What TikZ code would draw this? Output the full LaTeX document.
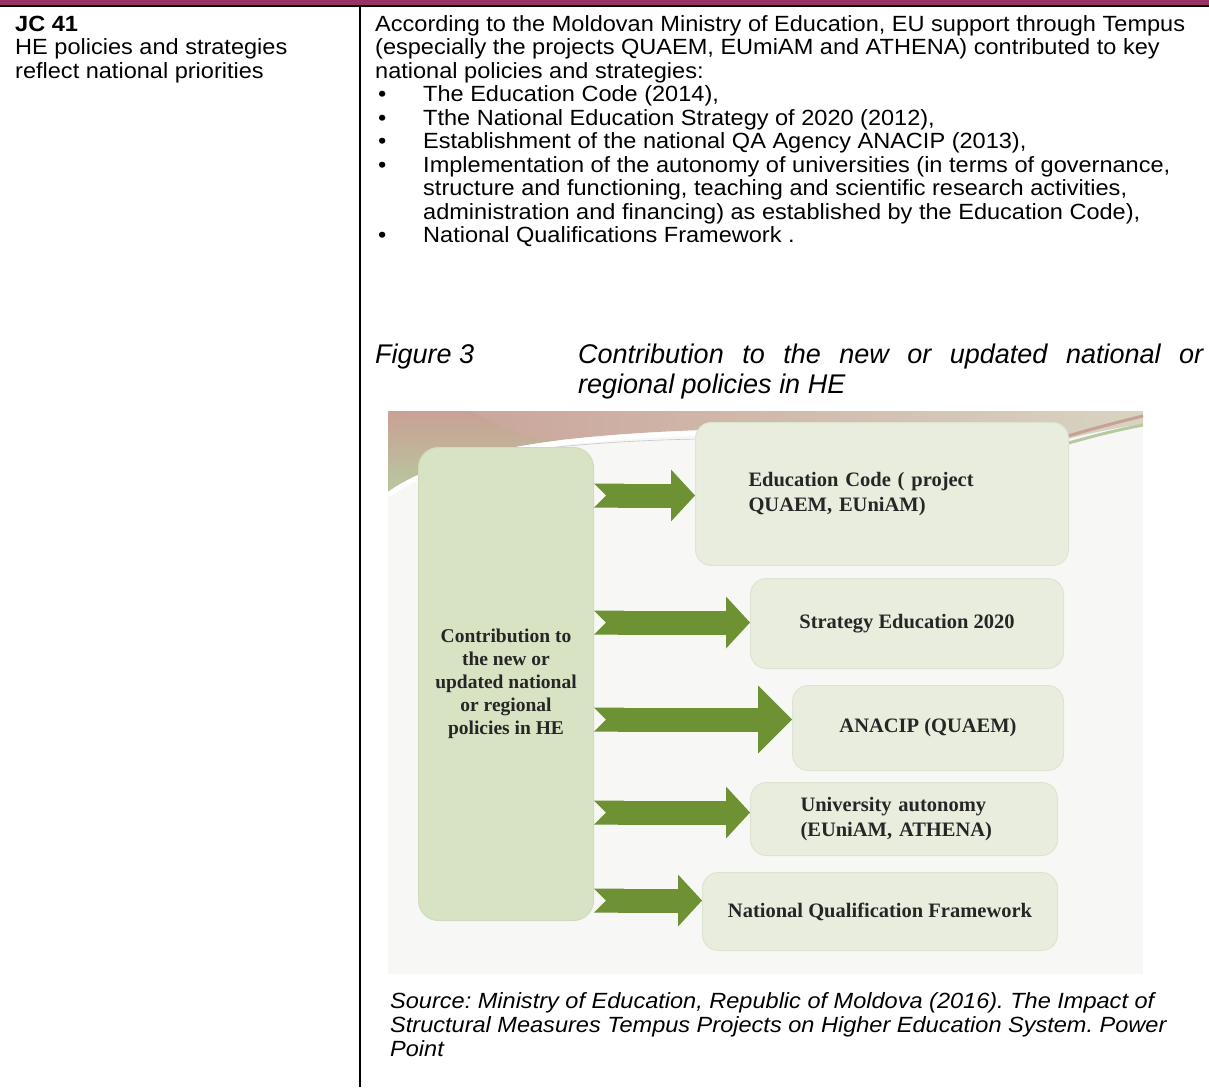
\documentclass[tikz,border=0pt]{standalone}
\usepackage{fontspec}
\setmainfont{Liberation Sans}[FakeStretch=1.07]
\newfontfamily\capfont{Liberation Sans}
\newfontfamily\slidefont{Liberation Serif}
\usetikzlibrary{arrows.meta}

\definecolor{barpurple}{HTML}{993366}
\definecolor{arrowgreen}{HTML}{6E9134}
\definecolor{leftgreen}{HTML}{D7E3C3}
\definecolor{leftedge}{HTML}{CFDBBA}
\definecolor{boxgrey}{HTML}{E8EDDD}
\definecolor{boxedge}{HTML}{DEE4D2}
\definecolor{slidebg}{HTML}{F7F8F5}
\definecolor{slidetext}{HTML}{262626}
\definecolor{swooshrose}{HTML}{C9A096}
\definecolor{swooshgreen}{HTML}{B7C99E}
\definecolor{swooshbeige}{HTML}{D8D3C2}

\tikzset{
  bodytext/.style={anchor=base west, inner sep=0pt, font=\fontsize{22}{23.5}\selectfont},
  srctext/.style={bodytext, font=\itshape\fontsize{22}{23.5}\selectfont},
  captext/.style={anchor=base west, inner sep=0pt, font=\capfont\itshape\fontsize{27}{30}\selectfont},
  policy/.style={rectangle, rounded corners=16pt, fill=boxgrey, draw=boxedge, line width=1pt,
    anchor=north west, inner sep=0pt, text=slidetext, align=center,
    font=\slidefont\bfseries\fontsize{20.5}{25}\selectfont},
  ctrbox/.style={policy, rounded corners=20pt, fill=leftgreen, draw=leftedge,
    font=\slidefont\bfseries\fontsize{19.5}{23}\selectfont},
  blockarrow/.style={draw=arrowgreen, line width=24pt,
    arrows={Triangle Cap[reversed]-Triangle[length=24pt, width=52pt, line width=0pt]}},
}

\begin{document}
\frenchspacing
\begin{tikzpicture}[x=1pt, y=-1pt]
  \useasboundingbox (0,0) rectangle (1209,1087);

  % table frame
  \fill[barpurple] (0,0) rectangle (1209,5);
  \draw[line width=2pt] (0,6) -- (1209,6);
  \draw[line width=1.6pt] (360,6) -- (360,1087);

  % left column
  \node[bodytext, font=\bfseries\fontsize{22}{23.5}\selectfont] (jc) at (15,31) {JC 41};
  \node[bodytext] (crit1) at (15,54.5) {HE policies and strategies};
  \node[bodytext] (crit2) at (15,78) {reflect national priorities};

  % right column
  \node[bodytext] (intro1) at (375,31) {According to the Moldovan Ministry of Education, EU support through Tempus};
  \node[bodytext] (intro2) at (375,54.5) {(especially the projects QUAEM, EUmiAM and ATHENA) contributed to key};
  \node[bodytext] (intro3) at (375,78) {national policies and strategies:};

  \node[bodytext] (dot1) at (378,101.5) {•};
  \node[bodytext] (item1) at (423,101.5) {The Education Code (2014),};
  \node[bodytext] (dot2) at (378,125) {•};
  \node[bodytext] (item2) at (423,125) {Tthe National Education Strategy of 2020 (2012),};
  \node[bodytext] (dot3) at (378,148.5) {•};
  \node[bodytext] (item3) at (423,148.5) {Establishment of the national QA Agency ANACIP (2013),};
  \node[bodytext] (dot4) at (378,172) {•};
  \node[bodytext] (item4a) at (423,172) {Implementation of the autonomy of universities (in terms of governance,};
  \node[bodytext] (item4b) at (423,195.5) {structure and functioning, teaching and scientific research activities,};
  \node[bodytext] (item4c) at (423,219) {administration and financing) as established by the Education Code),};
  \node[bodytext] (dot5) at (378,242.5) {•};
  \node[bodytext] (item5) at (423,242.5) {National Qualifications Framework .};

  % caption
  \node[captext] (fignum) at (375,363) {Figure 3};
  \node[captext] (figcap1) at (578,363) {\makebox[625pt][s]{Contribution to the new or updated national or}};
  \node[captext] (figcap2) at (578,393) {regional policies in HE};

  % slide picture
  \fill[slidebg] (388,411) rectangle (1143,974);
  \shade[left color=swooshrose, right color=swooshbeige]
    (388,411) -- (1143,411) -- (1143,424) .. controls (1100,430) and (1070,438) .. (1040,446)
    .. controls (900,424) and (700,424) .. (560,440) .. controls (480,450) and (420,468) .. (388,492) -- cycle;
  \shade[top color=swooshrose, bottom color=swooshgreen]
    (388,411) -- (470,411) .. controls (500,425) and (520,440) .. (560,440)
    .. controls (480,450) and (420,468) .. (388,492) -- cycle;
  \draw[white, line width=5pt] (388,495) .. controls (420,471) and (480,453) .. (560,443)
    .. controls (700,427) and (900,427) .. (1040,449);
  \draw[gray!45, line width=0.6pt] (470,458) .. controls (560,444) and (640,440) .. (700,439);
  \draw[swooshrose, line width=3pt] (1045,443) .. controls (1080,432) and (1110,424) .. (1143,416);
  \draw[swooshgreen, line width=3pt] (1048,449) .. controls (1085,438) and (1112,431) .. (1143,425);

  \node[ctrbox, minimum width=175pt, minimum height=473pt] (ctr) at (418,447)
    {Contribution to\\the new or\\updated national\\or regional\\policies in HE};
  \node[policy, minimum width=373pt, minimum height=143pt, text width=267pt, inner xsep=53pt, align=left] (edu) at (695,422)
    {Education Code ( project\\QUAEM, EUniAM)};
  \node[policy, minimum width=313pt, minimum height=90pt] (strat) at (750,578) {Strategy Education 2020};
  \node[policy, minimum width=271pt, minimum height=85pt] (anacip) at (792,685) {ANACIP (QUAEM)};
  \node[policy, minimum width=307pt, minimum height=73pt, text width=207pt, inner xsep=50pt, align=left] (univ) at (750,782)
    {University autonomy\\(EUniAM, ATHENA)};
  \node[policy, minimum width=355pt, minimum height=78pt] (nqf) at (702,872) {National Qualification Framework};

  % arrows
  \coordinate (a1) at ([yshift=-1.5pt]edu.west);
  \coordinate (a2) at ([yshift=1pt]strat.west);
  \coordinate (a3) at ([yshift=8.5pt]anacip.west);
  \coordinate (a4) at ([yshift=6.5pt]univ.west);
  \coordinate (a5) at ([yshift=11pt]nqf.west);
  \draw[blockarrow] (ctr.east |- a1) -- (a1);
  \draw[blockarrow] (ctr.east |- a2) -- (a2);
  \draw[blockarrow, arrows={Triangle Cap[reversed]-Triangle[length=34pt, width=68pt, line width=0pt]}] (ctr.east |- a3) -- (a3);
  \draw[blockarrow] (ctr.east |- a4) -- (a4);
  \draw[blockarrow] (ctr.east |- a5) -- (a5);

  % source
  \node[srctext] (src1) at (390,1008) {Source: Ministry of Education, Republic of Moldova (2016). The Impact of};
  \node[srctext] (src2) at (390,1032) {Structural Measures Tempus Projects on Higher Education System. Power};
  \node[srctext] (src3) at (390,1056) {Point};
\end{tikzpicture}
\end{document}
